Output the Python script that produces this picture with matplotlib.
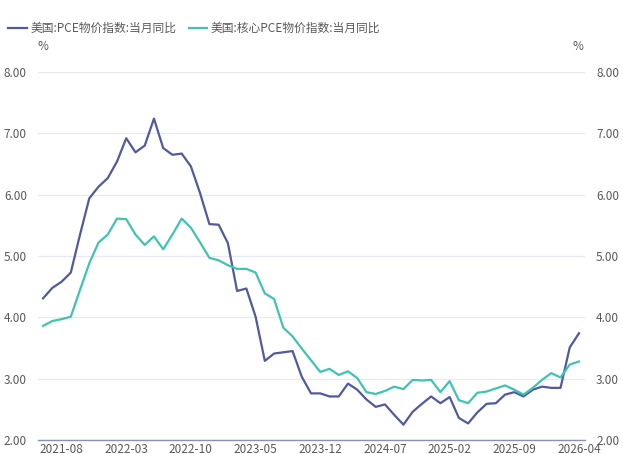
"""
plot.py — PCE 与核心 PCE 当月同比（2021-06 ~ 2026-04）
Sortie : out.png (623x454)
"""

import matplotlib
matplotlib.use("Agg")
import matplotlib.pyplot as plt
import pandas as pd

plt.rcParams["font.family"] = ["Noto Sans CJK SC", "DejaVu Sans"]

# Données (mensuel)
mois = pd.date_range("2021-06-01", "2026-04-01", freq="MS")
pce = [4.31, 4.48, 4.58, 4.73, 5.35, 5.94, 6.13, 6.27, 6.54, 6.92,
       6.69, 6.80, 7.24, 6.76, 6.65, 6.67, 6.46, 6.02, 5.52, 5.51,
       5.21, 4.43, 4.47, 4.01, 3.29, 3.41, 3.43, 3.45, 3.03, 2.76,
       2.76, 2.71, 2.71, 2.92, 2.82, 2.66, 2.54, 2.58, 2.41, 2.25,
       2.46, 2.59, 2.71, 2.60, 2.70, 2.36, 2.27, 2.45, 2.59, 2.60,
       2.74, 2.78, 2.71, 2.82, 2.87, 2.85, 2.85, 3.51, 3.74]
pce_core = [3.86, 3.94, 3.97, 4.01, 4.45, 4.88, 5.22, 5.35, 5.61, 5.60,
            5.35, 5.18, 5.32, 5.11, 5.35, 5.61, 5.46, 5.22, 4.97, 4.93,
            4.85, 4.79, 4.79, 4.73, 4.39, 4.30, 3.83, 3.69, 3.49, 3.30,
            3.11, 3.16, 3.06, 3.12, 3.01, 2.78, 2.75, 2.80, 2.87, 2.83,
            2.98, 2.97, 2.98, 2.78, 2.96, 2.65, 2.60, 2.77, 2.79, 2.84,
            2.89, 2.82, 2.74, 2.85, 2.98, 3.09, 3.02, 3.23, 3.28]
labels = ["美国:PCE物价指数:当月同比", "美国:核心PCE物价指数:当月同比"]
yticks = [2.0, 3.0, 4.0, 5.0, 6.0, 7.0, 8.0]

BLEU = "#515A9E"
TURQUOISE = "#40C4B2"
GRIS = "#595959"

fig = plt.figure(figsize=(6.23, 4.54), dpi=100)
ax = fig.add_axes([38 / 623, 1 - 440 / 454, (585 - 38) / 623, (440 - 72) / 454])

x = list(range(len(mois)))
ax.plot(x, pce, color=BLEU, lw=1.6, label=labels[0])
ax.plot(x, pce_core, color=TURQUOISE, lw=1.6, label=labels[1])

ax.set_xlim(-0.55, len(mois) - 1 + 0.65)
ax.set_ylim(2, 8)
ax.set_yticks(yticks)
ax.set_yticklabels([f"{v:.2f}" for v in yticks])
ax.grid(axis="y", color="#E9E9F3", lw=0.9)
ax.set_axisbelow(True)

# une étiquette tous les 7 mois, à partir de 2021-08
pos = list(range(2, len(mois), 7))
ax.set_xticks(pos)
ax.set_xticklabels([mois[i].strftime("%Y-%m") for i in pos])

for cote in ["top", "left", "right"]:
    ax.spines[cote].set_visible(False)
ax.spines["bottom"].set_color("#8A90B8")
ax.spines["bottom"].set_linewidth(1.0)
ax.tick_params(axis="x", length=0, pad=2, labelsize=8.5, colors=GRIS)
ax.tick_params(axis="y", length=0, pad=8, labelsize=8.5, colors=GRIS)

# axe de droite identique
ax2 = ax.twinx()
ax2.set_ylim(2, 8)
ax2.set_yticks(yticks)
ax2.set_yticklabels([f"{v:.2f}" for v in yticks])
for cote in ["top", "left", "right", "bottom"]:
    ax2.spines[cote].set_visible(False)
ax2.tick_params(axis="y", length=0, pad=8, labelsize=8.5, colors=GRIS)

fig.text(43 / 623, 1 - 46 / 454, "%", fontsize=8.5, color=GRIS, ha="center", va="center")
fig.text(578 / 623, 1 - 46 / 454, "%", fontsize=8.5, color=GRIS, ha="center", va="center")

fig.legend(loc="upper left", bbox_to_anchor=(0.0, 1 - 14 / 454), ncol=2, frameon=False,
           fontsize=8.5, handlelength=1.6, handletextpad=0.3, columnspacing=1.0,
           labelcolor=GRIS, borderaxespad=0.3)

fig.savefig("out.png", dpi=100)
